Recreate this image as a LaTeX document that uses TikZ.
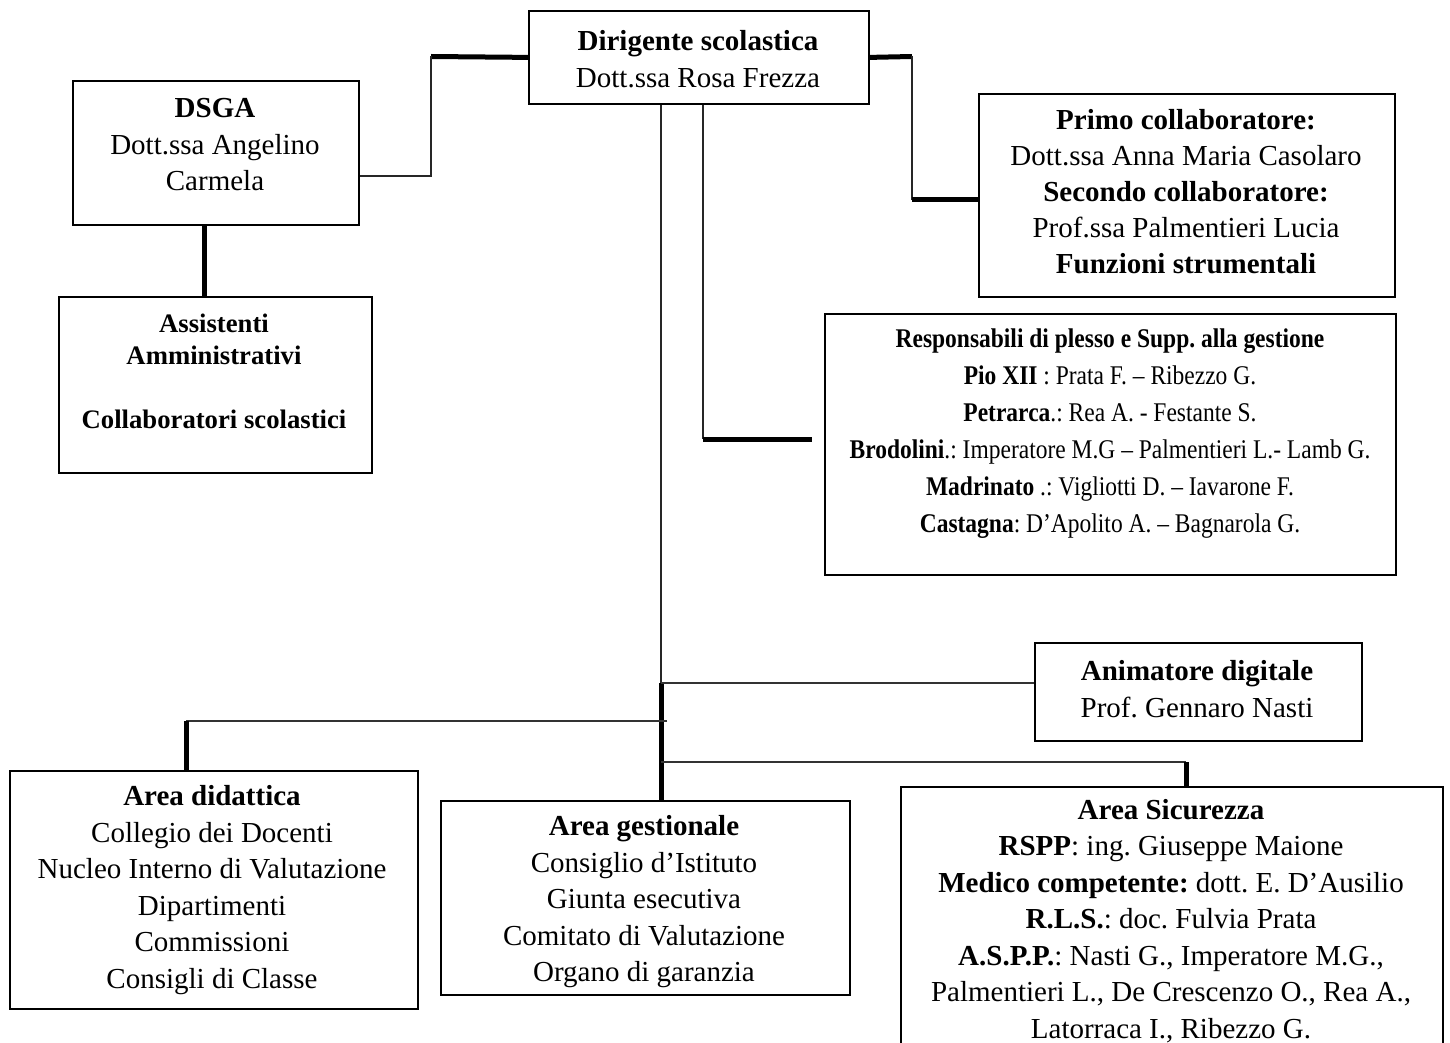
\documentclass[tikz,border=0pt]{standalone}
\usepackage{fontspec}
\setmainfont{Liberation Serif}
\newfontfamily\condfont[FakeStretch=0.87,Ligatures=TeX]{Liberation Serif}
\begin{document}
\frenchspacing
\begin{tikzpicture}[x=1pt,y=-1pt,
  box/.style={draw=black, line width=1.8pt, inner sep=0pt, anchor=north west},
  txt/.style={align=center, inner sep=0pt, font=\fontsize{29}{36.5}\selectfont},
  thinc/.style={line width=2pt, draw=black!85},
  thickc/.style={line width=5pt},
  midc/.style={line width=2.6pt, draw=black!80}]
\useasboundingbox (0,0) rectangle (1450,1043);
\clip (0,0) rectangle (1450,1043);
\fill[white] (0,0) rectangle (1450,1043);

% boxes
\node[box, minimum width=340pt, minimum height=93pt]  (dir)    at (528,10)  {};
\node[box, minimum width=286pt, minimum height=144pt] (dsga)   at (72,80)   {};
\node[box, minimum width=313pt, minimum height=176pt] (assist) at (58,296)  {};
\node[box, minimum width=416pt, minimum height=203pt] (primo)  at (978,93)  {};
\node[box, minimum width=571pt, minimum height=261pt] (resp)   at (824,313) {};
\node[box, minimum width=327pt, minimum height=98pt]  (anim)   at (1034,642) {};
\node[box, minimum width=408pt, minimum height=238pt] (did)    at (9,770)   {};
\node[box, minimum width=409pt, minimum height=194pt] (gest)   at (440,800) {};
\node[box, minimum width=542pt, minimum height=300pt] (sic)    at (900,786) {};

% texts
\node[txt] (dir-t) at (698,59) {\textbf{Dirigente scolastica}\\Dott.ssa Rosa Frezza};
\node[txt] (dsga-t) at (215,145) {\textbf{DSGA}\\Dott.ssa Angelino\\Carmela};
\node[txt, font=\fontsize{26.7}{32}\selectfont\bfseries] (assist-t) at (214,371)
  {Assistenti\\Amministrativi\\[32pt]Collaboratori scolastici};
\node[txt, font=\fontsize{29}{36}\selectfont] (primo-t) at (1186,192)
  {\textbf{Primo collaboratore:}\\Dott.ssa Anna Maria Casolaro\\\textbf{Secondo collaboratore:}\\Prof.ssa Palmentieri Lucia\\\textbf{Funzioni strumentali}};
\node[txt, font=\fontsize{27}{37}\condfont] (resp-t) at (1110,434)
  {\textbf{Responsabili di plesso e Supp. alla gestione}\\
   \textbf{Pio XII} : Prata F. – Ribezzo G.\\
   \textbf{Petrarca}.: Rea A. - Festante S.\\
   \textbf{Brodolini}.: Imperatore M.G – Palmentieri L.- Lamb G.\\
   \textbf{Madrinato} .: Vigliotti D. – Iavarone F.\\
   \textbf{Castagna}: D’Apolito A. – Bagnarola G.};
\node[txt] (anim-t) at (1197,689) {\textbf{Animatore digitale}\\Prof. Gennaro Nasti};
\node[txt] (did-t) at (212,890)
  {\textbf{Area didattica}\\Collegio dei Docenti\\Nucleo Interno di Valutazione\\Dipartimenti\\Commissioni\\Consigli di Classe};
\node[txt] (gest-t) at (644,902)
  {\textbf{Area gestionale}\\Consiglio d’Istituto\\Giunta esecutiva\\Comitato di Valutazione\\Organo di garanzia};
\node[txt] (sic-t) at (1171,921)
  {\textbf{Area Sicurezza}\\\textbf{RSPP}: ing. Giuseppe Maione\\\textbf{Medico competente:} dott. E. D’Ausilio\\\textbf{R.L.S.}: doc. Fulvia Prata\\\textbf{A.S.P.P.}: Nasti G., Imperatore M.G.,\\Palmentieri L., De Crescenzo O., Rea A.,\\Latorraca I., Ribezzo G.};

% connectors
\coordinate (jL) at (431,56.5);
\coordinate (jLd) at (431,176);
\draw[thickc] (dir.west) -- (jL);
\draw[thinc] (jL) -- (jLd) -- (dsga.east |- jLd);

\coordinate (jR) at (912,56.5);
\coordinate (jRd) at (912,200);
\draw[thickc] (dir.east) -- (jR);
\draw[thinc] (jR) -- (jRd);
\draw[thickc] (jRd) -- (primo.west |- jRd);

\coordinate (aX) at (204,0);
\draw[thickc] (dsga.south -| aX) -- (assist.north -| aX);

\coordinate (jP) at (703,439);
\draw[thinc] (dir.south -| jP) -- (jP);
\draw[thickc, shorten >=12pt] (jP) -- (resp.west |- jP);

\coordinate (tA) at (661,683);
\draw[thinc] (dir.south -| tA) -- (tA);
\draw[thickc] (tA) -- (gest.north -| tA);
\draw[midc] (tA) -- (anim.west |- tA);

\coordinate (tB) at (667,721);
\coordinate (dB) at (186,721);
\draw[midc] (tB) -- (dB);
\draw[thickc] (dB) -- (did.north -| dB);

\coordinate (tC) at (661,762);
\coordinate (dC) at (1186,762);
\draw[midc] (tC) -- (dC);
\draw[thickc] (dC) -- (sic.north -| dC);
\end{tikzpicture}
\end{document}
